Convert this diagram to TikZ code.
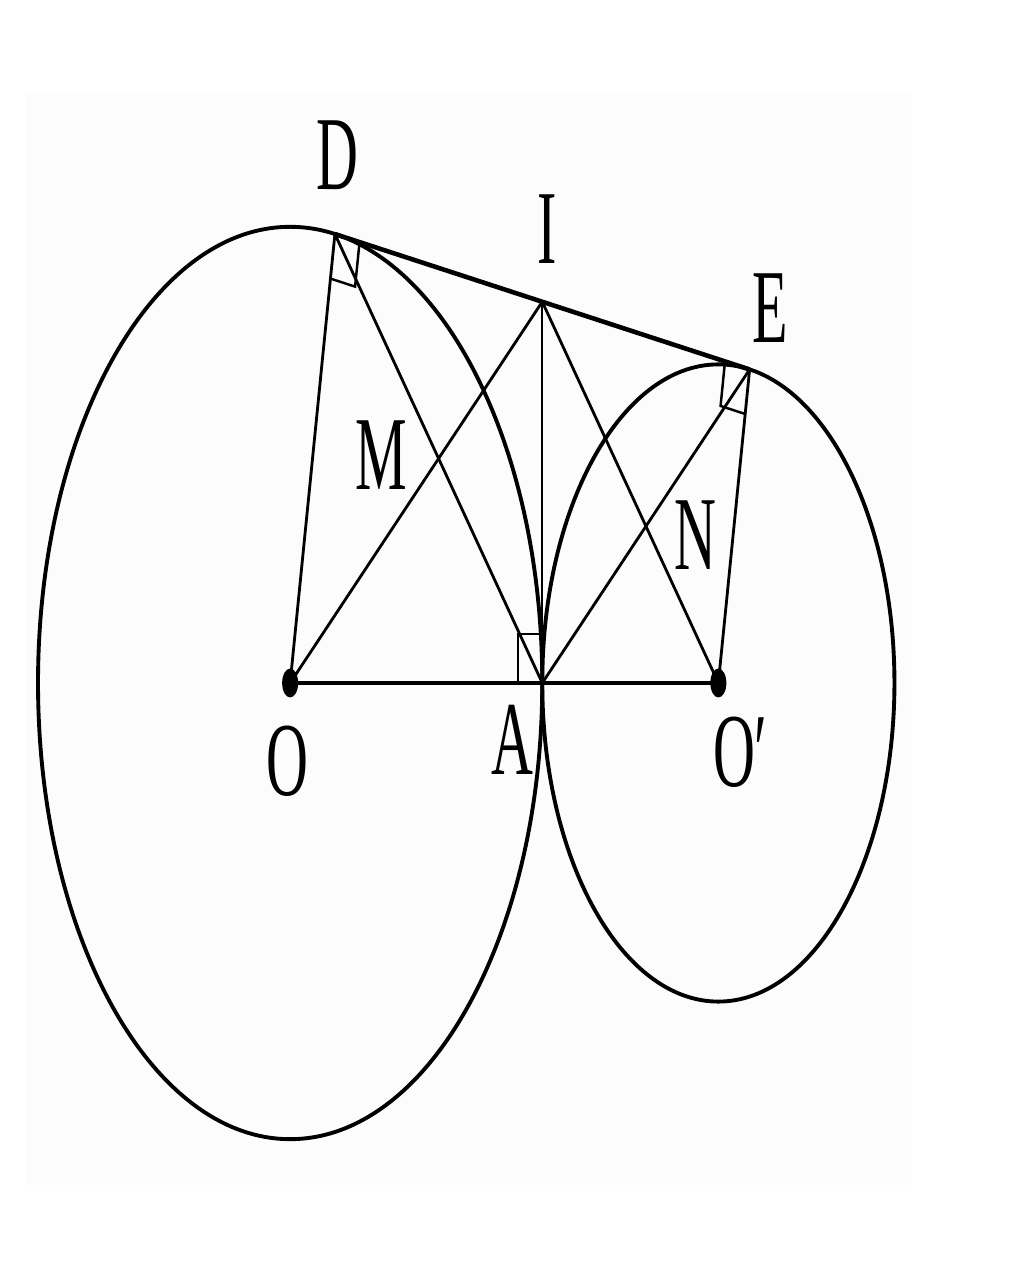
\documentclass[tikz,border=0pt]{standalone}
\usepackage{fontspec}
\setmainfont{Liberation Serif}
\usetikzlibrary{calc}
\begin{document}
\begin{tikzpicture}[x=0.02cm,y=0.0362cm,
  circ/.style={line width=2.2pt},
  seg/.style={line width=1.6pt},
  thickseg/.style={line width=2.6pt},
  thinseg/.style={line width=0.9pt},
  rmark/.style={line width=1.4pt},
  dotmark/.style={fill=black},
  lab/.style={inner sep=0pt, font=\fontsize{33}{33}\selectfont}]
\useasboundingbox (-290,-329.8) rectangle (734,377.3);
\fill[black!1] (-265,-277.3) rectangle (622,326.5);
% points
\coordinate (O) at (0,0);
\coordinate (O2) at (428,0);
\coordinate (A) at (252,0);
\coordinate (D) at (44.75,248.0);
\coordinate (E) at (459.25,173.2);
\coordinate (I) at (252,210.6);
% circles
\draw[circ] (O) circle [radius=252];
\draw[circ] (O2) circle [radius=176];
% lines
\draw[thickseg] (D) -- (E);
\draw[thickseg] (O) -- (O2);
\draw[seg] (O) -- (D);
\draw[seg] (O2) -- (E);
\draw[seg] (O) -- (I);
\draw[seg] (O2) -- (I);
\draw[seg] (D) -- (A);
\draw[seg] (E) -- (A);
\draw[thinseg] (I) -- (A);
% right angle marks
\coordinate (d1) at ($(D)!25/252!(O)$);
\coordinate (d2) at ($(D)!25/421.2!(E)$);
\draw[rmark] (d1) -- ($(d1)+(d2)-(D)$) -- (d2);
\coordinate (e1) at ($(E)!25/176!(O2)$);
\coordinate (e2) at ($(E)!25/421.2!(D)$);
\draw[rmark] (e1) -- ($(e1)+(e2)-(E)$) -- (e2);
\coordinate (a1) at ($(A)+(0,27)$);
\coordinate (a2) at ($(A)+(-24,0)$);
\draw[rmark] (a1) -- ($(a1)+(a2)-(A)$) -- (a2);
% dots
\fill[dotmark] (O) circle [radius=8];
\fill[dotmark] (O2) circle [radius=8];
% labels
\node[lab] (lD) at (47,291.7) {\scalebox{1}[1.81]{D}};
\node[lab] (lI) at (257,250.8) {\scalebox{1}[1.81]{I}};
\node[lab] (lE) at (480,207.2) {\scalebox{1}[1.81]{E}};
\node[lab] (lM) at (91,126) {\scalebox{1}[1.81]{M}};
\node[lab] (lN) at (405,81.8) {\scalebox{1}[1.81]{N}};
\node[lab] (lO) at (-3,-43.1) {\scalebox{1}[1.81]{O}};
\node[lab] (lA) at (222,-31.5) {\scalebox{1}[1.81]{A}};
\node[lab] (lO2) at (450,-38.1) {\scalebox{1}[1.81]{O′}};
\end{tikzpicture}
\end{document}
